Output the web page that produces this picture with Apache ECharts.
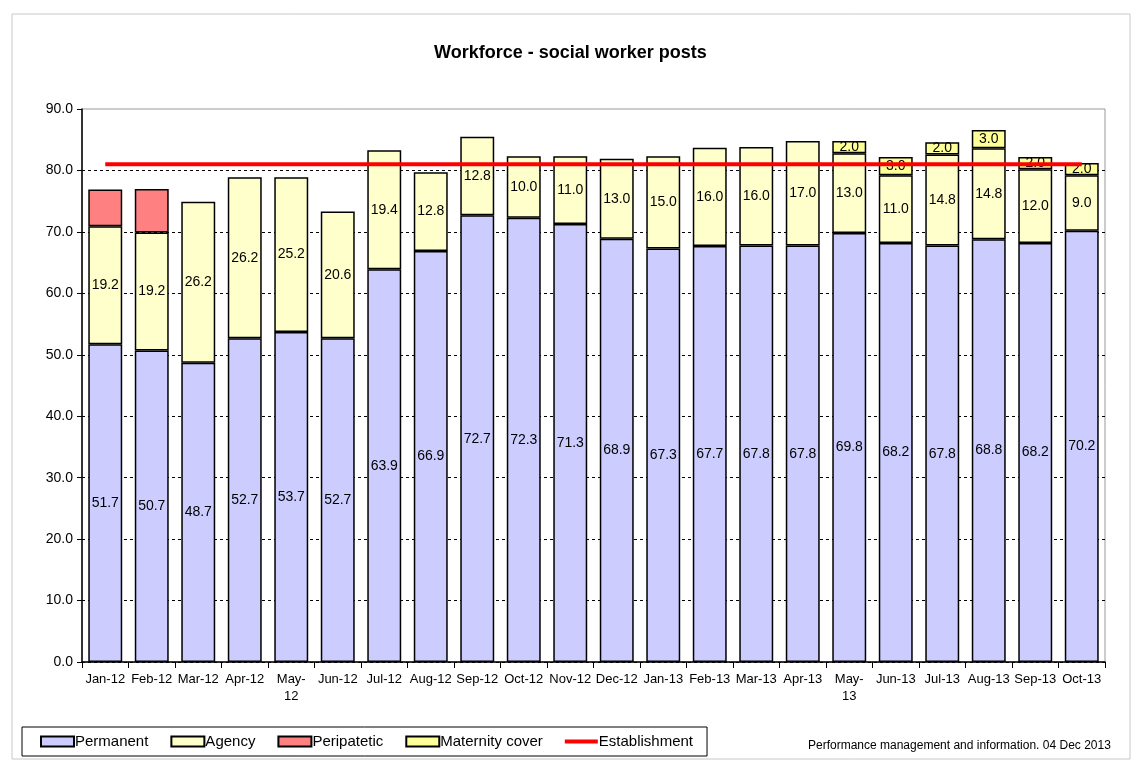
<!DOCTYPE html>
<html>
<head>
<meta charset="utf-8">
<script src="https://cdn.jsdelivr.net/npm/echarts@6/dist/echarts.min.js"></script>
<style>
  html, body { margin: 0; padding: 0; background: #fff; }
  #chart { width: 1141px; height: 762px; }
</style>
</head>
<body>
<div id="chart"></div>
<script>
var months = ['Jan-12', 'Feb-12', 'Mar-12', 'Apr-12', 'May-12', 'Jun-12', 'Jul-12', 'Aug-12', 'Sep-12', 'Oct-12', 'Nov-12',
    'Dec-12', 'Jan-13', 'Feb-13', 'Mar-13', 'Apr-13', 'May-13', 'Jun-13', 'Jul-13', 'Aug-13', 'Sep-13', 'Oct-13'];
var permanent = [51.7, 50.7, 48.7, 52.7, 53.7, 52.7, 63.9, 66.9, 72.7, 72.3, 71.3, 68.9, 67.3, 67.7, 67.8, 67.8, 69.8, 68.2, 67.8, 68.8, 68.2, 70.2];
var agency = [19.2, 19.2, 26.2, 26.2, 25.2, 20.6, 19.4, 12.8, 12.8, 10.0, 11.0, 13.0, 15.0, 16.0, 16.0, 17.0, 13.0, 11.0, 14.8, 14.8, 12.0, 9.0];
var peripatetic = [6.0, 7.1, null, null, null, null, null, null, null, null, null, null, null, null, null, null, null, null, null, null, null, null];
var maternity = [null, null, null, null, null, null, null, null, null, null, null, null, null, null, null, null, 2.0, 3.0, 2.0, 3.0, 2.0, 2.0];
var establishment = [81, 81, 81, 81, 81, 81, 81, 81, 81, 81, 81, 81, 81, 81, 81, 81, 81, 81, 81, 81, 81, 81];
var yTicks = [0, 10, 20, 30, 40, 50, 60, 70, 80, 90];

var font = 'Liberation Sans, Arial, sans-serif';

function barLabel(show) {
    return {
        show: show,
        position: 'inside',
        color: '#000',
        fontSize: 14,
        fontFamily: font,
        formatter: function (p) {
            return p.value == null ? '' : Number(p.value).toFixed(1);
        }
    };
}

function barSeries(name, data, color, show) {
    return {
        name: name,
        type: 'bar',
        stack: 'total',
        barCategoryGap: '27%',
        data: data,
        itemStyle: { color: color, borderColor: '#000', borderWidth: 1.5 },
        label: barLabel(show)
    };
}

var myChart = echarts.init(document.getElementById('chart'));
var option = {
    backgroundColor: '#fff',
    animation: false,
    title: {
        text: 'Workforce - social worker posts',
        left: 'center',
        top: 39,
        textStyle: { fontSize: 18, fontWeight: 'bold', color: '#000', fontFamily: font }
    },
    graphic: [{
        type: 'rect',
        shape: { x: 12, y: 14, width: 1118, height: 745 },
        style: { fill: 'none', stroke: '#c8c8c8', lineWidth: 1 },
        silent: true
    }, {
        type: 'text',
        left: 808,
        top: 740,
        style: { text: 'Performance management and information. 04 Dec 2013', fontSize: 12, fill: '#000', fontFamily: font }
    }],
    legend: {
        left: 22,
        top: 727,
        padding: [7, 14, 7, 18],
        borderColor: '#000',
        borderWidth: 1,
        itemGap: 22,
        itemWidth: 33,
        itemHeight: 10,
        textStyle: { fontSize: 15, color: '#000', fontFamily: font, padding: [0, 0, 0, -4] },
        data: [
            { name: 'Permanent', icon: 'rect' },
            { name: 'Agency', icon: 'rect' },
            { name: 'Peripatetic', icon: 'rect' },
            { name: 'Maternity cover', icon: 'rect' },
            { name: 'Establishment', icon: 'path://M0,0 H33 V4 H0 Z', itemStyle: { color: '#FF0000', borderWidth: 0 } }
        ]
    },
    grid: {
        left: 82,
        right: 36,
        top: 109,
        bottom: 100,
        show: true,
        borderColor: '#999',
        borderWidth: 1
    },
    xAxis: {
        type: 'category',
        data: months,
        axisLine: { lineStyle: { color: '#000', width: 1.5 } },
        axisTick: { show: true, length: 6, lineStyle: { color: '#000' } },
        axisLabel: {
            color: '#000',
            fontSize: 13,
            fontFamily: font,
            interval: 0,
            margin: 9,
            lineHeight: 17,
            formatter: function (v) {
                return v.indexOf('May-') === 0 ? v.replace('May-', 'May-\n') : v;
            }
        }
    },
    yAxis: {
        type: 'value',
        min: yTicks[0],
        max: yTicks[yTicks.length - 1],
        interval: 10,
        axisLine: { show: true, lineStyle: { color: '#000', width: 1.5 } },
        axisTick: { show: true, length: 5, lineStyle: { color: '#000' } },
        axisLabel: {
            color: '#000',
            fontSize: 14,
            fontFamily: font,
            margin: 9,
            formatter: function (v) { return v.toFixed(1); }
        },
        splitLine: { show: true, showMaxLine: false, lineStyle: { color: '#000', type: [3, 3], width: 1 } }
    },
    series: [
        barSeries('Permanent', permanent, '#CCCCFF', true),
        barSeries('Agency', agency, '#FFFFCC', true),
        barSeries('Peripatetic', peripatetic, '#FF8080', false),
        barSeries('Maternity cover', maternity, '#FFFF99', true),
        {
            name: 'Establishment',
            type: 'line',
            data: establishment,
            symbol: 'none',
            z: 5,
            lineStyle: { color: '#FF0000', width: 4 },
            itemStyle: { color: '#FF0000' }
        }
    ]
};
myChart.setOption(option);
</script>
</body>
</html>
